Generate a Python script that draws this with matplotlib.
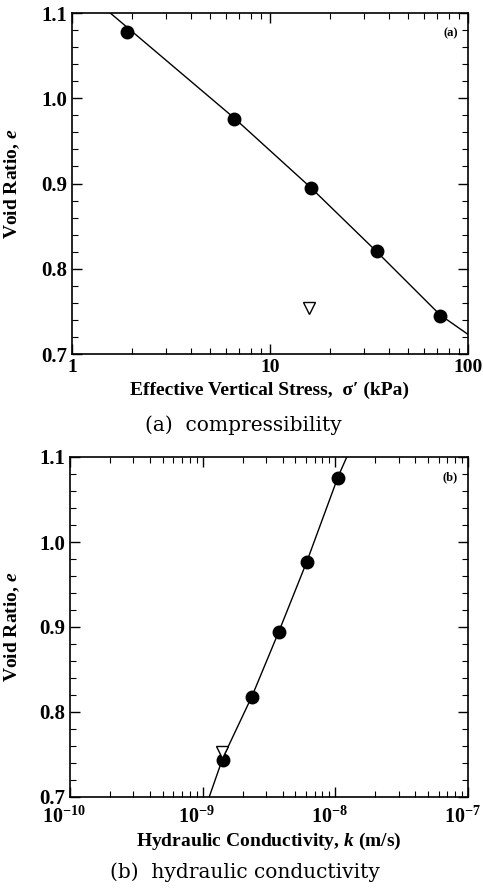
import numpy as np
import matplotlib.pyplot as plt
import matplotlib.transforms as mtransforms
from matplotlib.ticker import MultipleLocator, LogLocator, FuncFormatter, NullFormatter

plt.rcParams['font.family'] = ['Liberation Serif', 'DejaVu Serif']
plt.rcParams['font.weight'] = 'bold'
plt.rcParams['mathtext.fontset'] = 'custom'
plt.rcParams['mathtext.rm'] = 'Liberation Serif:bold'
plt.rcParams['mathtext.bf'] = 'Liberation Serif:bold'
plt.rcParams['mathtext.it'] = 'Liberation Serif:italic:bold'

# (a) compressibility data
stress = [1.9, 6.6, 16.1, 34.7, 72.0]
void_a = [1.078, 0.976, 0.895, 0.821, 0.745]
stress_tri = [15.7]
void_a_tri = [0.754]
fit_stress = [1.56, 6.58, 16.1, 34.6, 72.2, 100.0]
fit_void_a = [1.100, 0.977, 0.895, 0.820, 0.746, 0.723]

# (b) hydraulic conductivity data
k = [1.05e-8, 6.1e-9, 3.76e-9, 2.36e-9, 1.42e-9]
void_b = [1.075, 0.976, 0.894, 0.818, 0.744]
k_tri = [1.39e-9]
void_b_tri = [0.753]
fit_k = [1.12e-9, 1.42e-9, 2.36e-9, 3.76e-9, 6.1e-9, 1.05e-8, 1.22e-8]
fit_void_b = [0.700, 0.746, 0.819, 0.895, 0.977, 1.077, 1.100]

W, H = 483, 889
fig = plt.figure(figsize=(W / 100, H / 100), dpi=100)


def style_axes(ax, label_x):
    ax.set_ylim(0.7, 1.1)
    ax.yaxis.set_major_locator(MultipleLocator(0.1))
    ax.yaxis.set_minor_locator(MultipleLocator(0.02))
    ax.yaxis.set_major_formatter(FuncFormatter(lambda v, p: f"{v:.1f}"))
    ax.tick_params(which='both', direction='in', top=True, right=True)
    ax.tick_params(axis='y', labelsize=15)
    ax.tick_params(axis='x', labelsize=14)
    ax.tick_params(which='major', length=7, width=1.0)
    ax.tick_params(which='minor', length=4, width=0.8)
    for s in ax.spines.values():
        s.set_linewidth(1.2)
    ax.set_ylabel(r"Void Ratio, $\mathit{e}$", fontsize=14, fontweight='bold')
    ax.yaxis.set_label_coords(label_x, 0.5)


# top panel
ax1 = fig.add_axes([72 / W, 1 - 354 / H, 396 / W, 341 / H])
ax1.set_xscale('log')
ax1.set_xlim(1, 100)
ax1.plot(fit_stress, fit_void_a, color='black', lw=1.0)
ax1.plot(stress, void_a, 'o', color='black', ms=9)
ax1.plot(stress_tri, void_a_tri, 'v', mfc='white', mec='black', ms=8, mew=1.0)
style_axes(ax1, -0.125)
ax1.xaxis.set_major_formatter(FuncFormatter(lambda v, p: f"{v:g}"))
ax1.xaxis.set_minor_formatter(NullFormatter())
ax1.set_xlabel("Effective Vertical Stress,  σ′ (kPa)", fontsize=14, fontweight='bold')
ax1.text(0.975, 0.94, "(a)", transform=ax1.transAxes, ha='right', va='center',
         fontsize=9, fontweight='bold')
fig.text(243 / W, 1 - 425 / H, "(a)  compressibility", ha='center', va='center',
         fontsize=14.5, fontweight='normal', family='DejaVu Serif')

# bottom panel
ax2 = fig.add_axes([70 / W, 1 - 797 / H, 398 / W, 340 / H])
ax2.set_xscale('log')
ax2.set_xlim(1e-10, 1e-7)
ax2.plot(fit_k, fit_void_b, color='black', lw=1.0)
ax2.plot(k, void_b, 'o', color='black', ms=9)
ax2.plot(k_tri, void_b_tri, 'v', mfc='white', mec='black', ms=8, mew=1.0)
style_axes(ax2, -0.12)
ax2.tick_params(axis='x', labelsize=14.5, pad=7)
ax2.xaxis.set_major_locator(LogLocator(base=10))
ax2.xaxis.set_minor_locator(LogLocator(base=10, subs=np.arange(2, 10)))
ax2.xaxis.set_major_formatter(FuncFormatter(lambda v, p: r"$\mathbf{10^{%d}}$" % round(np.log10(v))))
ax2.xaxis.set_minor_formatter(NullFormatter())
# centre the "10" on the tick, the exponent hangs to the right
shift = mtransforms.ScaledTranslation(-6 / 100, 0, fig.dpi_scale_trans)
for lbl in ax2.get_xticklabels():
    lbl.set_transform(lbl.get_transform() + shift)
ax2.set_xlabel(r"Hydraulic Conductivity, $\mathit{k}$ (m/s)", fontsize=14, fontweight='bold',
               labelpad=2)
ax2.text(0.975, 0.94, "(b)", transform=ax2.transAxes, ha='right', va='center',
         fontsize=9, fontweight='bold')
fig.text(245 / W, 1 - 872 / H, "(b)  hydraulic conductivity", ha='center', va='center',
         fontsize=14.5, fontweight='normal', family='DejaVu Serif')

fig.savefig("out.png", dpi=100)
